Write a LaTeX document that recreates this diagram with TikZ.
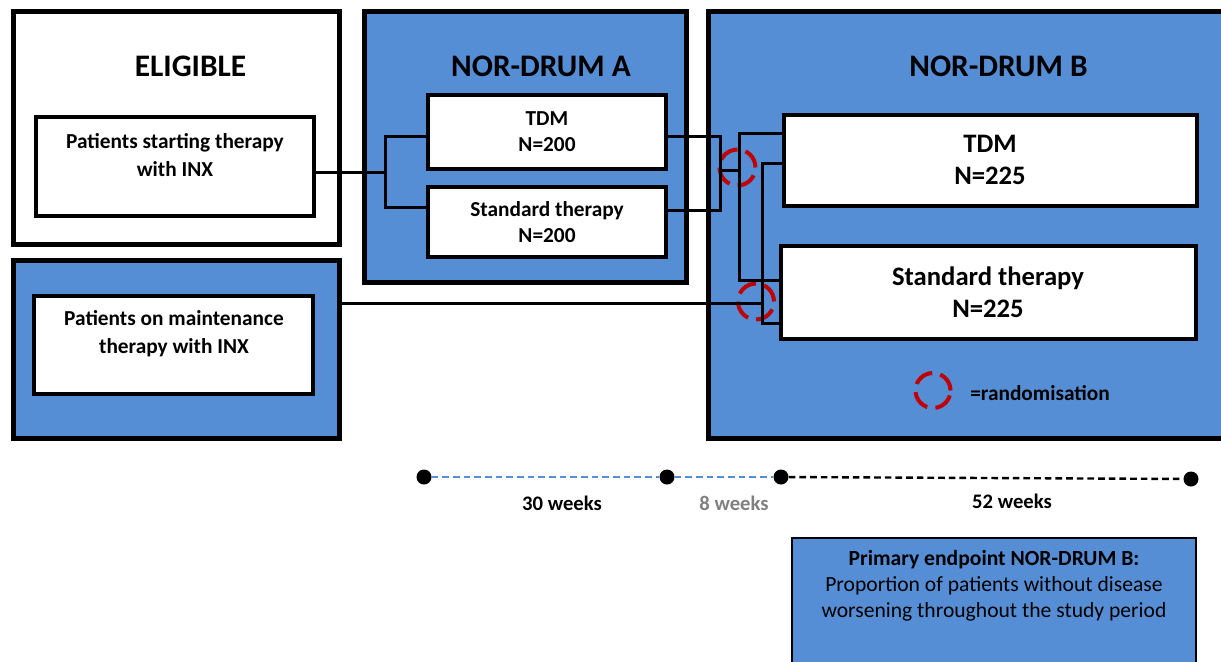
\documentclass[tikz,border=0pt]{standalone}
\usepackage{fontspec}
\setmainfont{Carlito}
\usepackage{tikz}
\definecolor{armblue}{RGB}{85,142,213}
\definecolor{randred}{RGB}{192,0,0}
\definecolor{lightgrey}{RGB}{128,128,128}

\begin{document}
\begin{tikzpicture}[x=0.75pt,y=0.75pt,yscale=-1,xscale=1,
    outer/.style={draw=black,line width=3.75pt,fill=#1,inner sep=0pt},
    inbox/.style={draw=black,line width=3pt,fill=white,inner sep=0pt,align=center},
    ttl/.style={font=\fontsize{23.5}{28}\selectfont\bfseries,inner sep=0pt,anchor=base},
    celltxt/.style={font=\fontsize{16}{21}\selectfont\bfseries,inner sep=0pt,align=center},
    armtxt/.style={font=\fontsize{16}{19.5}\selectfont\bfseries},
    bigtxt/.style={font=\fontsize{20}{24}\selectfont\bfseries},
    link/.style={line width=2.25pt,line join=miter},
    randring/.style={circle,draw=randred,line width=3pt,dash pattern=on 15pt off 6.2pt,inner sep=0pt,minimum size=27pt},
    tdot/.style={circle,fill=black,inner sep=0pt,minimum size=11.25pt},
    tline/.style={line width=1.8pt,dash pattern=on 5pt off 3pt},
    wklbl/.style={font=\fontsize{15.5}{18}\selectfont\bfseries,inner sep=0pt,anchor=base}
  ]
    \useasboundingbox (0,0) rectangle (1221,661);
    \clip (0,0) rectangle (1221,661);

    % outer boxes
    \node[outer=white, minimum width=244.875pt, minimum height=174.75pt] (elig) at (176.25,127.5) {};
    \node[outer=armblue, minimum width=244.875pt, minimum height=133.5pt] (maintbox) at (176.25,349.5) {};
    \node[outer=armblue, minimum width=241.125pt, minimum height=203.625pt] (drumA) at (525.25,146.75) {};
    \node[outer=armblue, minimum width=394.875pt, minimum height=320.625pt] (drumB) at (971.75,224.75) {};

    % titles
    \node[ttl] (eligT) at (190.5,76) {ELIGIBLE};
    \node[ttl] (drumAT) at (541,76) {NOR-DRUM A};
    \node[ttl] (drumBT) at (998.5,76) {NOR-DRUM B};

    % patient groups
    \node[inbox, minimum width=208.5pt, minimum height=74.25pt] (start) at (175,166) {};
    \node[celltxt] (startT) at (175,155) {Patients starting therapy\\with INX};
    \node[inbox, minimum width=209.25pt, minimum height=73.5pt] (maint) at (173.5,345) {};
    \node[celltxt] (maintT) at (174,334) {Patients on maintenance\\therapy with INX};

    % arms
    \node[inbox, armtxt, minimum width=178.5pt, minimum height=55.5pt] (tdmA) at (547,132) {TDM\\N=200};
    \node[inbox, armtxt, minimum width=178.5pt, minimum height=52.5pt] (stdA) at (547,222) {Standard therapy\\N=200};
    \node[inbox, bigtxt, minimum width=309.75pt, minimum height=68.25pt] (tdmB) at (990,160) {TDM\\N=225};
    \node[inbox, bigtxt, minimum width=311.25pt, minimum height=70.125pt] (stdB) at (988,292.25) {Standard therapy\\N=225};

    % randomisation
    \node[randring] (rand1) at (737.5,167.5) {};
    \node[randring] (rand2) at (756,301.5) {};
    \node[randring, minimum size=26.25pt] (randkey) at (933,390.5) {};
    \node[font=\fontsize{16}{18}\selectfont\bfseries, inner sep=0pt, anchor=base west] (randT) at (970,400) {=randomisation};

    % connectors
    \coordinate (aSplit) at (385,172);
    \coordinate (aTop) at (385,136);
    \coordinate (aBot) at (385,207);
    \draw[link] (aSplit -| start.east) -- (aSplit);
    \draw[link] (aTop -| tdmA.west) -- (aTop) -- (aBot) -- (aBot -| stdA.west);

    \coordinate (cTop) at (720,136);
    \coordinate (cBot) at (720,210);
    \coordinate (cMid) at (720,170);
    \draw[link] (cTop -| tdmA.east) -- (cTop) -- (cBot) -- (cBot -| stdA.east);

    \coordinate (b1Top) at (739,133);
    \coordinate (b1Bot) at (739,280);
    \draw[link] (cMid) -- (cMid -| b1Top);
    \draw[link] (b1Top -| tdmB.west) -- (b1Top) -- (b1Bot) -- (b1Bot -| stdB.west);

    \coordinate (b2Top) at (762,163);
    \coordinate (b2Mid) at (762,303);
    \coordinate (b2Bot) at (762,323);
    \draw[link] (b2Mid -| maintbox.east) -- (b2Mid);
    \draw[link] (b2Top -| tdmB.west) -- (b2Top) -- (b2Bot) -- (b2Bot -| stdB.west);

    % timeline
    \node[tdot] (w0) at (424,477) {};
    \node[tdot] (w1) at (667,477) {};
    \node[tdot] (w2) at (781,477) {};
    \node[tdot] (w3) at (1191,479) {};
    \draw[tline, armblue] (w0) -- (w1);
    \draw[tline, armblue] (w1) -- (w2);
    \draw[tline, black] (w2) -- (w3);
    \node[wklbl] (wk30) at (562,510) {30 weeks};
    \node[wklbl, text=lightgrey] (wk8) at (734,510) {8 weeks};
    \node[wklbl] (wk52) at (1012,508) {52 weeks};

    % primary endpoint
    \node[draw=black, line width=1.5pt, fill=armblue, inner sep=0pt, minimum width=303pt, minimum height=97.5pt] (endp) at (994,603) {};
    \node[font=\fontsize{16.2}{19.5}\selectfont, align=center, inner sep=0pt, anchor=north] (endpT) at (994,550) {\textbf{Primary endpoint NOR-DRUM B:}\\Proportion of patients without disease\\worsening throughout the study period};

\end{tikzpicture}
\end{document}
